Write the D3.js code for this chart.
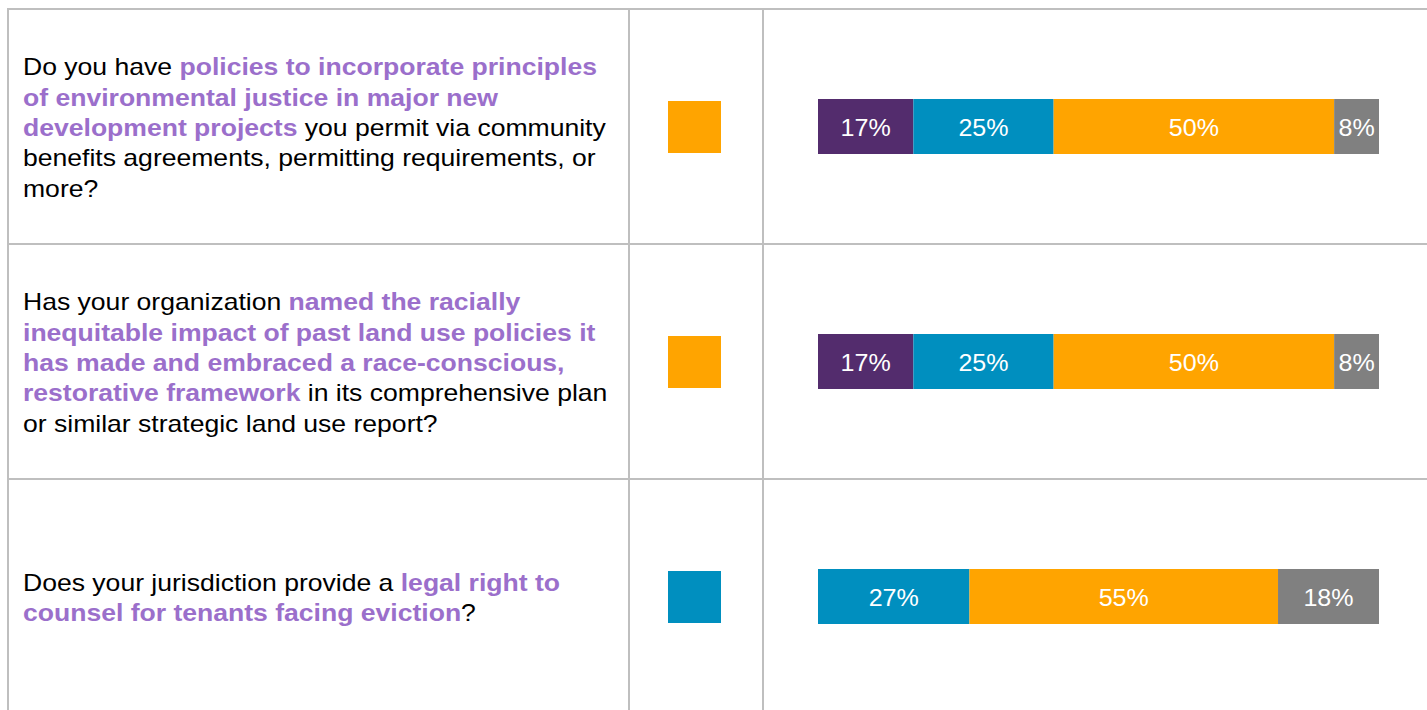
<!DOCTYPE html>
<html>
<head>
<meta charset="utf-8">
<script src="https://cdn.jsdelivr.net/npm/d3@7"></script>
<style>
  html, body { margin: 0; padding: 0; background: #fff; }
  svg { display: block; font-family: "Liberation Sans", Arial, sans-serif; }
</style>
</head>
<body>
<svg id="chart" width="1427" height="710"></svg>
<script>
// Survey responses, one stacked bar per question (percent of respondents)
const responses = ["Yes", "In progress", "No", "Unsure"];
const responseColors = ["#532c6d", "#008fbf", "#ffa400", "#808080"];

const questions = ["Q1", "Q2", "Q3"];
const yesValues        = [17, 17, 0];
const inProgressValues = [25, 25, 27];
const noValues         = [50, 50, 55];
const unsureValues     = [8, 8, 18];

// Response marker shown in the middle column of each row
const markerResponse = ["No", "No", "In progress"];

// Question wording, line by line; "h" segments are emphasised
const questionLines = [
  [
    [["n", "Do you have "], ["h", "policies to incorporate principles"]],
    [["h", "of environmental justice in major new"]],
    [["h", "development projects"], ["n", " you permit via community"]],
    [["n", "benefits agreements, permitting requirements, or"]],
    [["n", "more?"]]
  ],
  [
    [["n", "Has your organization "], ["h", "named the racially"]],
    [["h", "inequitable impact of past land use policies it"]],
    [["h", "has made and embraced a race-conscious,"]],
    [["h", "restorative framework"], ["n", " in its comprehensive plan"]],
    [["n", "or similar strategic land use report?"]]
  ],
  [
    [["n", "Does your jurisdiction provide a "], ["h", "legal right to"]],
    [["h", "counsel for tenants facing eviction"], ["n", "?"]]
  ]
];

const series = [yesValues, inProgressValues, noValues, unsureValues];

const svg = d3.select("#chart");
const W = 1427, H = 710;

// Table geometry
const tableLeft = 8, col1 = 629, col2 = 763, tableRight = 1440;
const tableTop = 9, rowH = 235;

const y = d3.scaleBand()
  .domain(questions)
  .range([tableTop, tableTop + rowH * questions.length])
  .paddingInner(0).paddingOuter(0);

const x = d3.scaleLinear().domain([0, 100]).range([818, 1379]);
const color = d3.scaleOrdinal().domain(responses).range(responseColors);

// Grid lines
const grid = svg.append("g").attr("stroke", "#bfbfbf").attr("stroke-width", 2);
questions.forEach(q => {
  grid.append("line").attr("x1", tableLeft).attr("x2", tableRight)
    .attr("y1", y(q)).attr("y2", y(q));
});
[tableLeft, col1, col2].forEach(cx => {
  grid.append("line").attr("x1", cx).attr("x2", cx)
    .attr("y1", tableTop - 1).attr("y2", H + 5);
});

// Question text (slightly widened type)
const lineH = 30.3;
const stretch = 1.107;
const textG = svg.append("g");
questions.forEach((q, i) => {
  const lines = questionLines[i];
  const cy = y(q) + y.bandwidth() / 2 + 1;
  const firstBaseline = cy - (lines.length - 1) * lineH / 2 + 8.5;
  const t = textG.append("text")
    .attr("transform", `translate(23,0) scale(${stretch},1)`)
    .attr("xml:space", "preserve")
    .attr("font-size", 24);
  lines.forEach((segs, li) => {
    segs.forEach((s, si) => {
      const ts = t.append("tspan").text(s[1])
        .attr("fill", s[0] === "h" ? "#9b6fcb" : "#000")
        .attr("font-weight", s[0] === "h" ? "bold" : "normal");
      if (si === 0) ts.attr("x", 0).attr("y", firstBaseline + li * lineH);
    });
  });
});

// Marker squares
svg.append("g").selectAll("rect")
  .data(questions)
  .join("rect")
  .attr("x", 668)
  .attr("width", 53)
  .attr("y", q => y(q) + y.bandwidth() / 2 - 25.5)
  .attr("height", 52)
  .attr("fill", (q, i) => color(markerResponse[i]));

// Stacked bars
const table = questions.map((q, i) => {
  const row = { q };
  responses.forEach((r, k) => { row[r] = series[k][i]; });
  return row;
});
const stacked = d3.stack().keys(responses)(table);
const barH = 55;

const layers = svg.append("g").selectAll("g")
  .data(stacked)
  .join("g")
  .attr("fill", d => color(d.key));

layers.selectAll("rect")
  .data(d => d.filter(s => s[1] - s[0] > 0))
  .join("rect")
  .attr("x", s => x(s[0]))
  .attr("width", s => x(s[1]) - x(s[0]))
  .attr("y", s => y(s.data.q) + y.bandwidth() / 2 - 27.5)
  .attr("height", barH);

const labelStretch = 1.09;
layers.selectAll("text")
  .data(d => d.filter(s => s[1] - s[0] > 0))
  .join("text")
  .attr("transform", s =>
    `translate(${(x(s[0]) + x(s[1])) / 2},${y(s.data.q) + y.bandwidth() / 2 + 9.5}) scale(${labelStretch},1)`)
  .attr("text-anchor", "middle")
  .attr("fill", "#fff")
  .attr("font-size", 23)
  .text(s => (s[1] - s[0]) + "%");
</script>
</body>
</html>
